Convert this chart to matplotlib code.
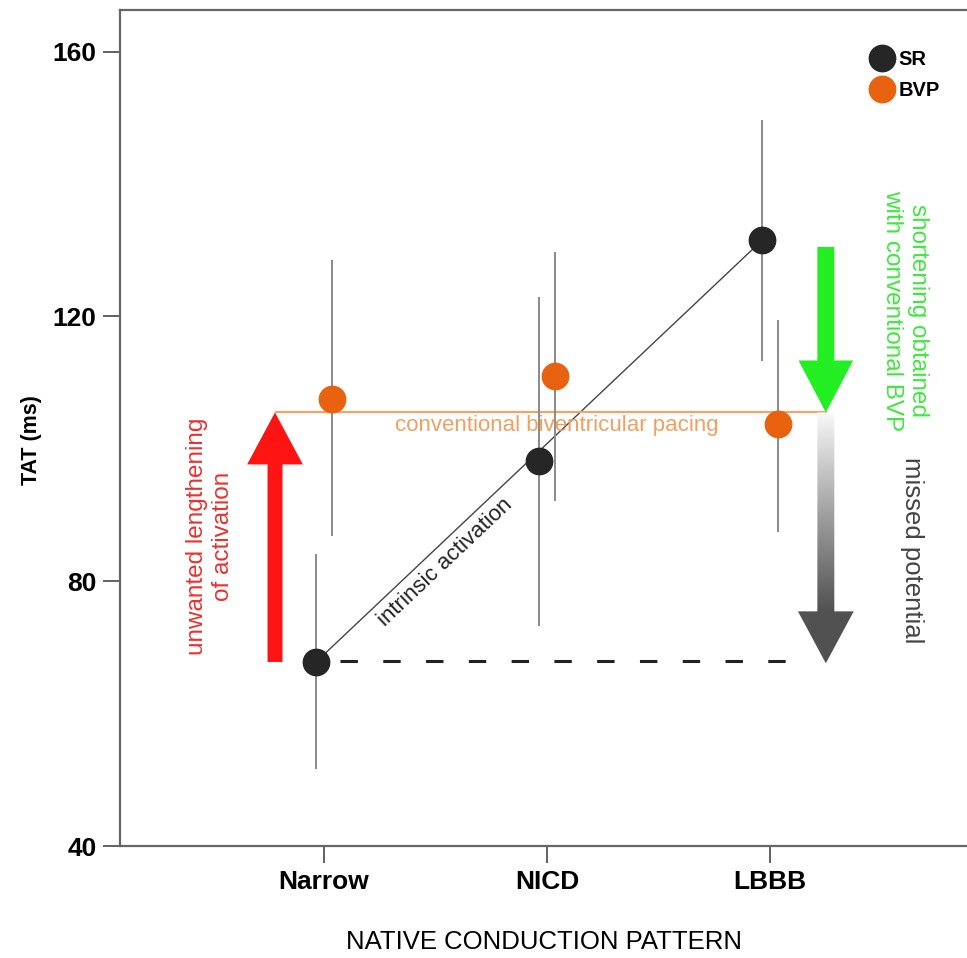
import numpy as np
import matplotlib
matplotlib.use("Agg")
import matplotlib.pyplot as plt
from matplotlib.patches import FancyArrow

plt.rcParams['font.family'] = ['Liberation Sans', 'DejaVu Sans']

# ---- data ----
categories = ['Narrow', 'NICD', 'LBBB']
sr_mean = [67.8, 98.1, 131.5]
sr_low = [51.6, 73.2, 113.2]
sr_high = [84.1, 123.0, 149.7]
bvp_mean = [107.6, 111.0, 103.7]
bvp_low = [86.8, 92.1, 87.4]
bvp_high = [128.5, 129.7, 119.5]
bvp_level = 105.5          # conventional biventricular pacing level
sr_baseline = 68.0         # intrinsic narrow-QRS level
y_ticks = [40, 80, 120, 160]

x = np.arange(len(categories))
off = 0.036

fig = plt.figure(figsize=(9.67, 9.58), dpi=100)
ax = fig.add_axes([120/967, 1-846/958, (967-120)/967, (846-10)/958])
ax.set_xlim(-0.915, 2.883)
ax.set_ylim(40, 166.3)

sr_c = '#262626'
bvp_c = '#e8620f'
err_c = '#8a8a8a'

# intrinsic activation line
ax.plot([x[0]-off, x[2]-off], [sr_mean[0], sr_mean[2]], color='#444444', lw=1.0, zorder=2)

# BVP level line
ax.plot([-0.215, 2.25], [bvp_level, bvp_level], color='#f2a46a', lw=1.6, zorder=2)

# baseline dashed line
ax.plot([0.07, 2.17], [sr_baseline, sr_baseline], color='#222222', lw=2.2,
        dashes=(5.7, 8.3), zorder=2)

# error bars
sr_yerr = [np.array(sr_mean)-np.array(sr_low), np.array(sr_high)-np.array(sr_mean)]
bvp_yerr = [np.array(bvp_mean)-np.array(bvp_low), np.array(bvp_high)-np.array(bvp_mean)]
ax.errorbar(x-off, sr_mean, yerr=sr_yerr, fmt='none', ecolor=err_c, elinewidth=1.4, zorder=3)
ax.errorbar(x+off, bvp_mean, yerr=bvp_yerr, fmt='none', ecolor=err_c, elinewidth=1.4, zorder=3)

# markers
ax.plot(x-off, sr_mean, 'o', color=sr_c, ms=19, mec=sr_c, ls='none', zorder=5, label='SR')
ax.plot(x+off, bvp_mean, 'o', color=bvp_c, ms=19, mec=bvp_c, ls='none', zorder=5, label='BVP')

# red arrow (unwanted lengthening)
ax.add_patch(FancyArrow(-0.22, sr_mean[0], 0, bvp_level - sr_mean[0], width=0.067,
                        head_width=0.25, head_length=7.85, length_includes_head=True,
                        color='#ff1414', lw=0, zorder=4))
# green arrow (shortening)
ax.add_patch(FancyArrow(2.25, 130.5, 0, bvp_level - 130.5, width=0.076,
                        head_width=0.245, head_length=7.85, length_includes_head=True,
                        color='#22ee22', lw=0, zorder=4))
# gray gradient arrow (missed potential)
gx = 2.25
gtip = 67.6
gray = FancyArrow(gx, bvp_level, 0, gtip - bvp_level, width=0.076,
                  head_width=0.25, head_length=7.85, length_includes_head=True,
                  facecolor='none', edgecolor='none', zorder=4)
ax.add_patch(gray)
n = 300
t = np.linspace(0, 1, n)
hstart = 1 - 7.85/(bvp_level - gtip)
g = 0.98 - (0.98 - 0.32) * np.clip(t/hstart, 0, 1)**0.95
img = np.repeat(g[:, None], 3, axis=1)[:, None, :]
im = ax.imshow(img, extent=[gx-0.13, gx+0.13, gtip, bvp_level], origin='upper',
               aspect='auto', interpolation='bilinear', zorder=4)
im.set_clip_path(gray)
ax.set_xlim(-0.915, 2.883)
ax.set_ylim(40, 166.3)

# texts
ax.text(-0.511, 86.8, 'unwanted lengthening\nof activation', rotation=90,
        ha='center', va='center', color='#e8322e', fontsize=17.5, linespacing=1.2)
ax.text(2.605, 120.9, 'shortening obtained\nwith conventional BVP', rotation=-90,
        ha='center', va='center', color='#3ee83e', fontsize=17.5, linespacing=1.2)
ax.text(2.637, 84.7, 'missed potential', rotation=-90,
        ha='center', va='center', color='#444444', fontsize=18.5)
ax.text(1.045, 103.6, 'conventional biventricular pacing', ha='center', va='center',
        color='#f0a060', fontsize=16)

p = ax.transData.transform([[x[0]-off, sr_mean[0]], [x[2]-off, sr_mean[2]]])
ang = np.degrees(np.arctan2(p[1, 1]-p[0, 1], p[1, 0]-p[0, 0]))
ax.text(0.543, 82.9, 'intrinsic activation', rotation=ang, rotation_mode='anchor',
        ha='center', va='center', color='#222222', fontsize=16)

# axes styling
ax.set_xticks(x)
ax.set_xticklabels(categories, fontweight='bold')
ax.set_yticks(y_ticks)
for lab in ax.get_yticklabels():
    lab.set_fontweight('bold')
ax.tick_params(axis='both', labelsize=19, length=12, width=1.3, color='#555555', pad=5)
ax.spines['right'].set_visible(False)
for s in ['left', 'bottom', 'top']:
    ax.spines[s].set_color('#666666')
    ax.spines[s].set_linewidth(1.6)
ax.set_ylabel('TAT (ms)', fontsize=15.5, fontweight='bold')
ax.yaxis.set_label_coords(-0.092, 0.486)
ax.set_xlabel('NATIVE CONDUCTION PATTERN', fontsize=18.5, labelpad=26)

leg = ax.legend(loc='upper left', bbox_to_anchor=(0.8757, 0.9646), frameon=False,
                handlelength=1.0, handletextpad=0.32, labelspacing=0.62,
                borderpad=0, prop={'weight': 'bold', 'size': 14.5})

fig.savefig('out.png', dpi=100)
